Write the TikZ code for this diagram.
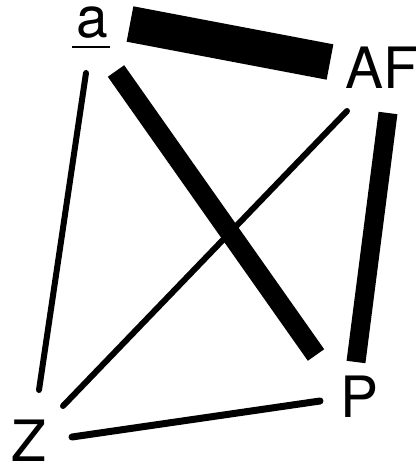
\documentclass[tikz,border=0pt]{standalone}
\usepackage{fontspec}
\setmainfont{TeX Gyre Heros}
\usetikzlibrary{calc}
\tikzset{
  lbl/.style={inner sep=0pt, font=\fontsize{57}{60}\selectfont},
  bar/.style={line width=#1, line cap=butt},
  thin/.style={line width=#1, line cap=round}
}
\begin{document}
\begin{tikzpicture}[x=1pt,y=-1pt]
\useasboundingbox[fill=white] (0,0) rectangle (418,472);
\node[lbl] (a) at (92,23) {a};
\node[lbl] (AF) at (382,68) {AF};
\node[lbl] (P) at (360,397) {P};
\node[lbl] (Z) at (29,441) {Z};
% underline of a
\draw[line width=2pt] ($(a)+(-20,24)$) -- ($(a)+(18,24)$);
% thick bars
\draw[bar=36pt] ($(a)+(38,1)$) -- ($(AF)+(-52,-6)$);
\draw[bar=20pt] ($(a)+(24,48)$) -- ($(P)+(-44,-42)$);
\draw[bar=19pt] ($(AF)+(6,45)$) -- ($(P)+(-4,-35)$);
% thin lines
\draw[thin=6pt] ($(a)+(-6,50)$) -- ($(Z)+(10,-51)$);
\draw[thin=6pt] ($(AF)+(-35,43)$) -- ($(Z)+(34,-35)$);
\draw[thin=7pt] ($(Z)+(43,-4)$) -- ($(P)+(-40,4)$);
\end{tikzpicture}
\end{document}
